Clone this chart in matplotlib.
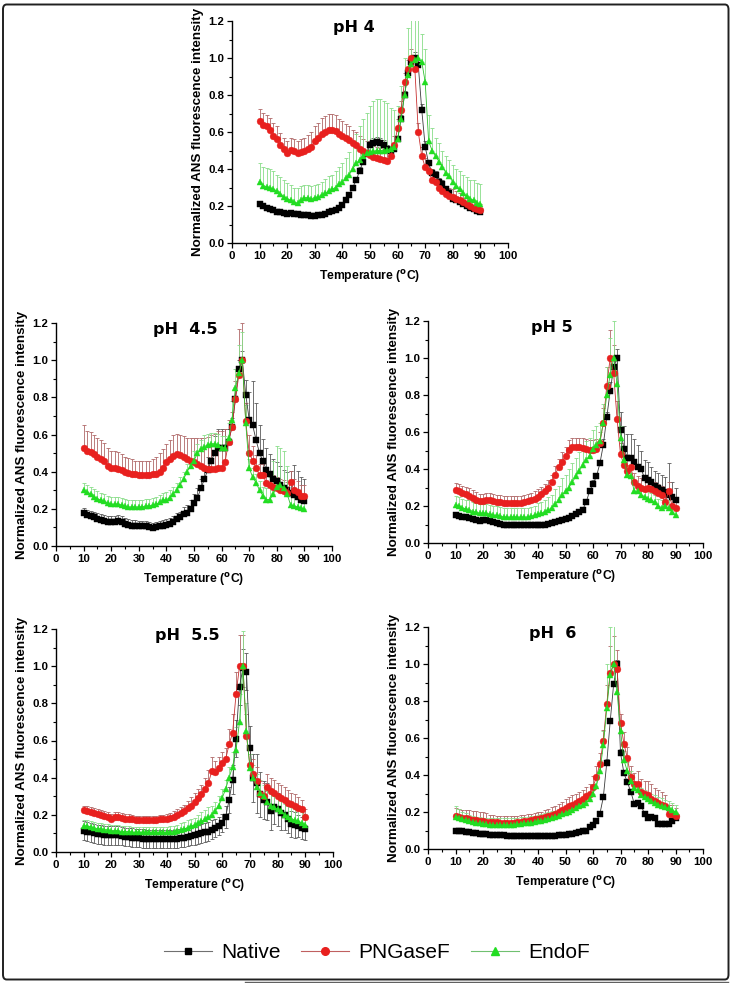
import numpy as np
import matplotlib
matplotlib.use('Agg')
import matplotlib.pyplot as plt
from matplotlib.patches import FancyBboxPatch
from matplotlib.lines import Line2D
from matplotlib.ticker import MultipleLocator, FormatStrFormatter

# Temperature grid (deg C), one reading every 1.25 deg from 10 to 90
temps = np.arange(10, 90.01, 1.25)

series_names = ["Native", "PNGaseF", "EndoF"]
panel_titles = ["pH 4", "pH  4.5", "pH 5", "pH  5.5", "pH  6"]

# ---------------- pH 4 ----------------
n4 = [0.21,0.20,0.19,0.185, 0.18,0.17,0.165,0.16, 0.155,0.16,0.158,0.155, 0.153,0.15,0.15,0.148,
      0.148,0.15,0.152,0.157, 0.165,0.172,0.18,0.19, 0.205,0.23,0.26,0.30, 0.34,0.39,0.44,0.48,
      0.53,0.54,0.545,0.54, 0.53,0.51,0.50,0.51, 0.56,0.67,0.80,0.92, 0.98,1.00,0.96,0.72,
      0.52,0.43,0.38,0.37, 0.33,0.32,0.29,0.27, 0.24,0.23,0.22,0.21, 0.20,0.19,0.185,0.175, 0.165]
p4 = [0.66,0.64,0.63,0.61, 0.58,0.56,0.53,0.51, 0.485,0.505,0.50,0.485, 0.49,0.50,0.51,0.52,
      0.55,0.57,0.59,0.60, 0.61,0.61,0.605,0.59, 0.58,0.57,0.555,0.54, 0.53,0.51,0.495,0.485,
      0.475,0.465,0.46,0.455, 0.45,0.445,0.47,0.53, 0.62,0.72,0.87,0.94, 1.00,0.94,0.60,0.47,
      0.41,0.39,0.34,0.33, 0.30,0.28,0.265,0.255, 0.25,0.24,0.23,0.22, 0.21,0.20,0.19,0.185, 0.18]
e4 = [0.33,0.31,0.305,0.30, 0.29,0.28,0.265,0.25, 0.24,0.23,0.22,0.215, 0.235,0.245,0.245,0.24,
      0.245,0.25,0.26,0.27, 0.28,0.29,0.30,0.32, 0.33,0.35,0.37,0.40, 0.43,0.45,0.47,0.485,
      0.49,0.495,0.50,0.50, 0.50,0.505,0.51,0.52, 0.56,0.67,0.80,0.91, 0.97,0.99,1.00,0.98,
      0.87,0.55,0.50,0.47, 0.44,0.41,0.38,0.36, 0.33,0.31,0.29,0.27, 0.255,0.24,0.23,0.215, 0.21]
n4_err = [0.01,0.01,0.01,0.01, 0.01,0.01,0.01,0.01, 0.01,0.01,0.01,0.01, 0.01,0.01,0.01,0.01,
          0.01,0.01,0.01,0.01, 0.01,0.01,0.01,0.01, 0.01,0.01,0.01,0.015, 0.015,0.02,0.02,0.02,
          0.02,0.025,0.03,0.03, 0.025,0.02,0.02,0.02, 0.02,0.02,0.02,0.03, 0.03,0.03,0.03,0.03,
          0.03,0.02,0.02,0.02, 0.02,0.02,0.02,0.02, 0.02,0.02,0.02,0.02, 0.02,0.02,0.02,0.02, 0.02]
p4_err = [0.065,0.065,0.06,0.065, 0.07,0.07,0.065,0.06, 0.065,0.06,0.06,0.065, 0.07,0.07,0.075,0.08,
          0.08,0.08,0.085,0.085, 0.085,0.085,0.085,0.08, 0.08,0.075,0.075,0.07, 0.07,0.07,0.065,0.065,
          0.065,0.06,0.06,0.06, 0.06,0.055,0.05,0.05, 0.05,0.05,0.05,0.05, 0.05,0.05,0.05,0.05,
          0.05,0.05,0.045,0.045, 0.045,0.04,0.04,0.04, 0.04,0.04,0.04,0.04, 0.04,0.035,0.035,0.03, 0.03]
e4_err = [0.10,0.10,0.10,0.10, 0.10,0.09,0.09,0.09, 0.085,0.085,0.08,0.08, 0.075,0.07,0.07,0.07,
          0.07,0.07,0.07,0.075, 0.08,0.08,0.09,0.09, 0.10,0.11,0.12,0.14, 0.16,0.18,0.20,0.22,
          0.25,0.27,0.28,0.28, 0.27,0.25,0.22,0.20, 0.18,0.18,0.20,0.25, 0.30,0.30,0.25,0.15,
          0.18,0.14,0.12,0.10, 0.10,0.09,0.09,0.09, 0.09,0.09,0.10,0.10, 0.10,0.10,0.11,0.11, 0.11]

# ---------------- pH 4.5 ----------------
n45 = [0.175,0.165,0.16,0.155, 0.145,0.14,0.135,0.13, 0.13,0.13,0.135,0.13, 0.12,0.115,0.11,0.11,
       0.105,0.105,0.105,0.10, 0.095,0.10,0.105,0.11, 0.115,0.12,0.13,0.145, 0.155,0.17,0.18,0.20,
       0.23,0.26,0.31,0.36, 0.41,0.46,0.50,0.53, 0.53,0.53,0.56,0.64, 0.79,0.95,1.00,0.815,
       0.68,0.65,0.57,0.50, 0.455,0.41,0.385,0.36, 0.35,0.33,0.31,0.30, 0.285,0.275,0.265,0.25, 0.24]
p45 = [0.53,0.51,0.505,0.495, 0.48,0.47,0.455,0.43, 0.42,0.42,0.415,0.41, 0.40,0.395,0.39,0.385,
       0.38,0.38,0.38,0.38, 0.385,0.39,0.40,0.42, 0.45,0.47,0.485,0.495, 0.49,0.48,0.47,0.46,
       0.45,0.44,0.43,0.42, 0.415,0.415,0.415,0.42, 0.42,0.45,0.56,0.64, 0.79,0.92,1.00,0.67,
       0.50,0.46,0.42,0.38, 0.38,0.34,0.33,0.32, 0.31,0.30,0.295,0.285, 0.345,0.30,0.29,0.27, 0.27]
e45 = [0.30,0.29,0.28,0.265, 0.255,0.245,0.24,0.23, 0.225,0.225,0.225,0.22, 0.215,0.21,0.21,0.21,
       0.21,0.21,0.215,0.215, 0.22,0.225,0.235,0.245, 0.25,0.26,0.28,0.30, 0.33,0.36,0.40,0.43,
       0.46,0.50,0.52,0.535, 0.545,0.55,0.55,0.545, 0.53,0.53,0.58,0.68, 0.85,0.93,1.00,0.66,
       0.42,0.37,0.34,0.30, 0.27,0.25,0.25,0.28, 0.32,0.33,0.31,0.28, 0.22,0.215,0.21,0.205, 0.20]
n45_err = [0.03,0.03,0.03,0.03, 0.03,0.03,0.03,0.03, 0.03,0.03,0.03,0.03, 0.03,0.03,0.03,0.03,
           0.03,0.03,0.03,0.03, 0.03,0.03,0.03,0.03, 0.03,0.03,0.03,0.03, 0.03,0.04,0.04,0.05,
           0.05,0.05,0.05,0.06, 0.07,0.08,0.09,0.10, 0.10,0.10,0.07,0.05, 0.05,0.05,0.05,0.08,
           0.15,0.24,0.20,0.15, 0.12,0.12,0.11,0.11, 0.10,0.10,0.10,0.10, 0.12,0.16,0.14,0.12, 0.12]
p45_err = [0.12,0.11,0.11,0.10, 0.10,0.10,0.10,0.095, 0.09,0.09,0.09,0.085, 0.08,0.08,0.08,0.075,
           0.075,0.075,0.075,0.08, 0.085,0.09,0.10,0.10, 0.10,0.10,0.11,0.11, 0.11,0.11,0.11,0.12,
           0.13,0.14,0.15,0.16, 0.17,0.18,0.19,0.20, 0.20,0.18,0.12,0.08, 0.10,0.25,0.20,0.10,
           0.10,0.08,0.07,0.06, 0.06,0.06,0.06,0.06, 0.06,0.06,0.06,0.06, 0.06,0.06,0.06,0.06, 0.06]
e45_err = [0.04,0.04,0.04,0.04, 0.04,0.04,0.04,0.04, 0.04,0.04,0.04,0.04, 0.04,0.04,0.04,0.04,
           0.04,0.04,0.04,0.04, 0.04,0.04,0.04,0.04, 0.04,0.04,0.04,0.04, 0.04,0.04,0.04,0.04,
           0.05,0.05,0.05,0.06, 0.06,0.06,0.06,0.06, 0.06,0.06,0.08,0.10, 0.10,0.15,0.15,0.10,
           0.05,0.05,0.05,0.05, 0.05,0.06,0.12,0.18, 0.22,0.20,0.20,0.15, 0.05,0.05,0.05,0.05, 0.05]

# ---------------- pH 5 ----------------
n5 = [0.15,0.145,0.14,0.14, 0.135,0.13,0.125,0.12, 0.125,0.125,0.12,0.115, 0.11,0.105,0.10,0.10,
      0.10,0.10,0.095,0.095, 0.095,0.095,0.095,0.095, 0.095,0.10,0.10,0.105, 0.11,0.115,0.12,0.125,
      0.13,0.135,0.145,0.155, 0.17,0.18,0.22,0.28, 0.32,0.36,0.43,0.53, 0.68,0.82,0.95,1.00,
      0.61,0.51,0.46,0.46, 0.44,0.41,0.40,0.35, 0.34,0.33,0.31,0.30, 0.285,0.275,0.26,0.25, 0.23]
p5 = [0.285,0.28,0.27,0.265, 0.255,0.245,0.235,0.225, 0.225,0.23,0.23,0.225, 0.22,0.22,0.215,0.215,
      0.215,0.215,0.215,0.215, 0.22,0.225,0.23,0.24, 0.25,0.265,0.28,0.30, 0.33,0.37,0.41,0.44,
      0.47,0.505,0.52,0.52, 0.52,0.515,0.51,0.505, 0.505,0.51,0.54,0.65, 0.85,1.00,0.92,0.67,
      0.48,0.42,0.39,0.41, 0.33,0.31,0.30,0.29, 0.30,0.29,0.28,0.27, 0.26,0.22,0.28,0.20, 0.19]
e5 = [0.205,0.20,0.19,0.185, 0.18,0.17,0.165,0.16, 0.16,0.16,0.155,0.15, 0.15,0.145,0.14,0.14,
      0.14,0.14,0.14,0.14, 0.14,0.14,0.145,0.15, 0.155,0.16,0.17,0.18, 0.19,0.21,0.23,0.26,
      0.28,0.30,0.33,0.36, 0.39,0.42,0.45,0.47, 0.51,0.53,0.55,0.65, 0.80,0.91,1.00,0.86,
      0.57,0.45,0.37,0.36, 0.28,0.28,0.26,0.25, 0.24,0.23,0.22,0.20, 0.19,0.20,0.19,0.17, 0.15]
n5_err = [0.01,0.01,0.01,0.01, 0.01,0.01,0.01,0.01, 0.01,0.01,0.01,0.01, 0.01,0.01,0.01,0.01,
          0.01,0.01,0.01,0.01, 0.01,0.01,0.01,0.01, 0.01,0.01,0.01,0.01, 0.01,0.01,0.01,0.01,
          0.01,0.01,0.01,0.01, 0.01,0.01,0.015,0.015, 0.02,0.02,0.02,0.03, 0.03,0.05,0.05,0.05,
          0.10,0.12,0.13,0.13, 0.12,0.12,0.10,0.10, 0.10,0.08,0.08,0.08, 0.08,0.08,0.17,0.08, 0.07]
p5_err = [0.04,0.04,0.04,0.04, 0.04,0.04,0.04,0.04, 0.04,0.04,0.04,0.04, 0.04,0.04,0.04,0.04,
          0.04,0.04,0.04,0.04, 0.04,0.04,0.04,0.04, 0.04,0.04,0.04,0.04, 0.04,0.045,0.045,0.05,
          0.05,0.05,0.05,0.05, 0.05,0.05,0.05,0.05, 0.05,0.05,0.06,0.08, 0.10,0.15,0.15,0.10,
          0.06,0.06,0.06,0.06, 0.05,0.05,0.05,0.05, 0.05,0.05,0.05,0.05, 0.05,0.05,0.05,0.05, 0.05]
e5_err = [0.05,0.05,0.05,0.05, 0.05,0.05,0.05,0.05, 0.05,0.05,0.05,0.05, 0.05,0.05,0.05,0.05,
          0.05,0.05,0.05,0.05, 0.05,0.05,0.05,0.05, 0.06,0.06,0.06,0.07, 0.07,0.08,0.08,0.09,
          0.09,0.10,0.10,0.10, 0.10,0.10,0.10,0.10, 0.10,0.10,0.10,0.10, 0.15,0.20,0.20,0.15,
          0.06,0.05,0.05,0.05, 0.04,0.04,0.04,0.04, 0.04,0.04,0.04,0.04, 0.04,0.04,0.04,0.04, 0.04]

# ---------------- pH 5.5 ----------------
n55 = [0.115,0.11,0.105,0.10, 0.095,0.095,0.09,0.09, 0.09,0.09,0.09,0.085, 0.08,0.08,0.078,0.075,
       0.075,0.072,0.07,0.07, 0.07,0.07,0.07,0.07, 0.07,0.07,0.07,0.072, 0.075,0.078,0.08,0.085,
       0.09,0.095,0.10,0.105, 0.11,0.12,0.13,0.14, 0.155,0.19,0.28,0.39, 0.61,0.89,0.99,0.97,
       0.56,0.40,0.37,0.31, 0.28,0.27,0.22,0.24, 0.23,0.21,0.20,0.18, 0.15,0.145,0.14,0.13, 0.125]
p55 = [0.225,0.22,0.215,0.21, 0.205,0.20,0.195,0.19, 0.18,0.19,0.19,0.185, 0.18,0.18,0.175,0.17,
       0.17,0.17,0.17,0.17, 0.17,0.17,0.175,0.175, 0.18,0.185,0.19,0.20, 0.21,0.22,0.235,0.25,
       0.27,0.29,0.31,0.34, 0.37,0.435,0.43,0.45, 0.48,0.50,0.58,0.64, 0.85,1.00,1.00,0.625,
       0.47,0.42,0.38,0.31, 0.30,0.35,0.33,0.32, 0.30,0.29,0.28,0.265, 0.26,0.25,0.235,0.23, 0.19]
e55 = [0.14,0.14,0.135,0.13, 0.125,0.125,0.12,0.12, 0.115,0.115,0.115,0.11, 0.11,0.11,0.105,0.105,
       0.105,0.105,0.105,0.105, 0.105,0.105,0.105,0.105, 0.105,0.11,0.11,0.115, 0.12,0.125,0.13,0.14,
       0.145,0.155,0.165,0.175, 0.19,0.20,0.22,0.25, 0.29,0.34,0.40,0.46, 0.55,0.70,1.00,0.65,
       0.45,0.40,0.35,0.32, 0.30,0.27,0.25,0.24, 0.23,0.22,0.20,0.19, 0.18,0.17,0.165,0.155, 0.145]
n55_err = [0.05,0.05,0.05,0.05, 0.05,0.05,0.05,0.05, 0.05,0.05,0.05,0.05, 0.05,0.05,0.05,0.05,
           0.05,0.05,0.05,0.05, 0.05,0.05,0.05,0.05, 0.05,0.05,0.05,0.05, 0.05,0.05,0.05,0.05,
           0.05,0.05,0.05,0.05, 0.05,0.05,0.05,0.05, 0.05,0.06,0.07,0.08, 0.10,0.10,0.10,0.10,
           0.12,0.13,0.16,0.12, 0.10,0.10,0.10,0.09, 0.09,0.09,0.08,0.08, 0.07,0.07,0.06,0.06, 0.06]
p55_err = [0.025,0.025,0.025,0.025, 0.025,0.025,0.025,0.025, 0.025,0.025,0.025,0.025, 0.025,0.025,0.025,0.025,
           0.025,0.025,0.025,0.025, 0.025,0.025,0.025,0.025, 0.025,0.025,0.03,0.03, 0.03,0.035,0.04,0.045,
           0.05,0.05,0.05,0.06, 0.07,0.075,0.06,0.06, 0.06,0.06,0.08,0.10, 0.12,0.17,0.17,0.12,
           0.08,0.08,0.08,0.07, 0.07,0.07,0.07,0.07, 0.07,0.07,0.07,0.07, 0.06,0.06,0.06,0.05, 0.04]
e55_err = [0.03,0.03,0.03,0.03, 0.03,0.03,0.03,0.03, 0.03,0.03,0.03,0.03, 0.03,0.03,0.03,0.03,
           0.03,0.03,0.03,0.03, 0.03,0.03,0.03,0.03, 0.03,0.03,0.03,0.03, 0.035,0.035,0.04,0.04,
           0.04,0.045,0.05,0.05, 0.05,0.05,0.05,0.05, 0.05,0.05,0.06,0.08, 0.12,0.15,0.19,0.15,
           0.08,0.07,0.07,0.07, 0.06,0.06,0.06,0.06, 0.06,0.06,0.06,0.06, 0.06,0.06,0.06,0.06, 0.06]

# ---------------- pH 6 ----------------
n6 = [0.10,0.10,0.095,0.093, 0.09,0.088,0.085,0.083, 0.08,0.08,0.078,0.077, 0.075,0.074,0.073,0.072,
      0.07,0.07,0.069,0.068, 0.068,0.068,0.068,0.068, 0.068,0.068,0.069,0.07, 0.07,0.072,0.074,0.076,
      0.078,0.08,0.083,0.086, 0.09,0.095,0.10,0.12, 0.13,0.15,0.19,0.28, 0.465,0.69,0.89,1.00,
      0.52,0.41,0.36,0.31, 0.245,0.25,0.235,0.19, 0.165,0.175,0.17,0.135, 0.135,0.135,0.135,0.15, 0.165]
p6 = [0.18,0.175,0.17,0.165, 0.16,0.155,0.155,0.15, 0.15,0.148,0.146,0.145, 0.145,0.143,0.142,0.142,
      0.142,0.143,0.145,0.148, 0.15,0.153,0.156,0.16, 0.163,0.167,0.172,0.178, 0.185,0.19,0.20,0.21,
      0.22,0.23,0.24,0.25, 0.26,0.27,0.285,0.30, 0.335,0.39,0.46,0.585, 0.785,0.95,1.00,0.975,
      0.68,0.57,0.49,0.39, 0.35,0.35,0.31,0.30, 0.29,0.27,0.26,0.25, 0.24,0.23,0.19,0.19, 0.18]
e6 = [0.175,0.165,0.16,0.155, 0.15,0.145,0.14,0.138, 0.135,0.133,0.132,0.13, 0.13,0.13,0.13,0.13,
      0.13,0.132,0.134,0.136, 0.138,0.14,0.143,0.146, 0.15,0.154,0.158,0.163, 0.168,0.173,0.18,0.187,
      0.195,0.20,0.21,0.22, 0.23,0.24,0.25,0.27, 0.30,0.34,0.42,0.56, 0.76,0.94,1.00,0.85,
      0.64,0.48,0.42,0.37, 0.33,0.32,0.29,0.28, 0.27,0.26,0.25,0.24, 0.235,0.225,0.22,0.21, 0.20]
n6_err = [0.01,0.01,0.01,0.01, 0.01,0.01,0.01,0.01, 0.01,0.01,0.01,0.01, 0.01,0.01,0.01,0.01,
          0.01,0.01,0.01,0.01, 0.01,0.01,0.01,0.01, 0.01,0.01,0.01,0.01, 0.01,0.01,0.01,0.01,
          0.01,0.01,0.01,0.01, 0.01,0.01,0.01,0.01, 0.01,0.01,0.01,0.01, 0.02,0.02,0.02,0.02,
          0.02,0.01,0.01,0.01, 0.01,0.01,0.01,0.01, 0.01,0.01,0.01,0.01, 0.01,0.01,0.01,0.01, 0.01]
p6_err = [0.04,0.04,0.04,0.045, 0.05,0.05,0.05,0.05, 0.05,0.045,0.04,0.04, 0.035,0.035,0.035,0.035,
          0.035,0.035,0.035,0.035, 0.035,0.035,0.035,0.035, 0.035,0.035,0.04,0.04, 0.04,0.04,0.045,0.045,
          0.05,0.05,0.05,0.05, 0.05,0.05,0.05,0.05, 0.06,0.06,0.06,0.06, 0.10,0.15,0.15,0.10,
          0.05,0.06,0.06,0.06, 0.06,0.07,0.07,0.07, 0.08,0.08,0.07,0.07, 0.07,0.06,0.05,0.05, 0.04]
e6_err = [0.06,0.05,0.04,0.04, 0.035,0.035,0.035,0.035, 0.035,0.035,0.035,0.035, 0.035,0.035,0.035,0.035,
          0.035,0.035,0.035,0.035, 0.035,0.035,0.035,0.035, 0.035,0.035,0.035,0.035, 0.035,0.035,0.035,0.035,
          0.04,0.04,0.04,0.04, 0.04,0.04,0.04,0.04, 0.05,0.05,0.06,0.08, 0.24,0.26,0.22,0.15,
          0.05,0.05,0.05,0.05, 0.04,0.04,0.04,0.04, 0.04,0.04,0.04,0.04, 0.04,0.04,0.04,0.04, 0.04]

# ---------------- layout / style ----------------
W, H = 731, 983
fig = plt.figure(figsize=(W / 100, H / 100), dpi=100)

def rect(x0, x1, top, bottom):
    return [x0 / W, 1 - bottom / H, (x1 - x0) / W, (bottom - top) / H]

axes_px = [(232, 508, 21, 243), (56, 332, 323, 546), (428, 703, 321, 543),
           (56, 333, 629, 852), (428, 703, 627, 849)]
title_x = [44, 47, 45, 47.5, 45.5]

panels = [
    (n4, p4, e4, n4_err, p4_err, e4_err, False),
    (n45, p45, e45, n45_err, p45_err, e45_err, False),
    (n5, p5, e5, n5_err, p5_err, e5_err, False),
    (n55, p55, e55, n55_err, p55_err, e55_err, True),
    (n6, p6, e6, n6_err, p6_err, e6_err, False),
]

styles = [
    dict(marker='s', ms=3.9, mfc='black', mec='black', color='#3a3a3a', ecolor='#5a5a5a'),
    dict(marker='o', ms=4.9, mfc='#e8201e', mec='#e8201e', color='#c83030', ecolor='#b06868'),
    dict(marker='^', ms=5.0, mfc='#22dd22', mec='#22dd22', color='#30c030', ecolor='#88dd88'),
]

for k, (pos, panel) in enumerate(zip(axes_px, panels)):
    ax = fig.add_axes(rect(*pos))
    vals = panel[:3]
    errs = panel[3:6]
    sym_native = panel[6]
    for j, (v, e, st) in enumerate(zip(vals, errs, styles)):
        v = np.asarray(v)
        e = np.asarray(e)
        lower = e if (j == 0 and sym_native) else np.zeros_like(e)
        ax.errorbar(temps, v, yerr=[lower, e], fmt='none', ecolor=st['ecolor'],
                    elinewidth=0.6, capsize=1.6, capthick=0.6, zorder=2 + j)
    for j, (v, st) in enumerate(zip(vals, styles)):
        ax.plot(temps, v, color=st['color'], lw=0.6, marker=st['marker'], ms=st['ms'],
                mfc=st['mfc'], mec=st['mec'], mew=0.3, zorder=5 + j, clip_on=True)
    ax.set_xlim(0, 100)
    ax.set_ylim(0, 1.2)
    for s in ['top', 'right']:
        ax.spines[s].set_visible(False)
    for s in ['left', 'bottom']:
        ax.spines[s].set_linewidth(1.0)
    ax.xaxis.set_major_locator(MultipleLocator(10))
    ax.xaxis.set_minor_locator(MultipleLocator(5))
    ax.yaxis.set_major_locator(MultipleLocator(0.2))
    ax.yaxis.set_minor_locator(MultipleLocator(0.1))
    ax.yaxis.set_major_formatter(FormatStrFormatter('%.1f'))
    ax.tick_params(which='major', direction='out', length=3.5, width=0.9, pad=2)
    ax.tick_params(which='minor', direction='out', length=2, width=0.8)
    for lab in ax.get_xticklabels() + ax.get_yticklabels():
        lab.set_fontfamily('Liberation Sans')
        lab.set_fontweight('bold')
        lab.set_fontsize(8.2)
    ax.set_ylabel('Normalized ANS fluorescence intensity', family='Liberation Sans',
                  weight='bold', size=9.6, labelpad=3)
    ax.set_xlabel('Temperature ($\\mathbf{^{o}}$C)', family='Liberation Sans',
                  weight='bold', size=8.7, labelpad=5)
    ax.text(title_x[k], 1.165, panel_titles[k], ha='center', va='center',
            family='DejaVu Sans', weight='bold', size=11.5)
    ax.patch.set_alpha(0)

# legend
handles = [Line2D([], [], color=c, lw=0.8, marker=st['marker'], ms=m,
                  mfc=st['mfc'], mec=st['mec'])
           for st, c, m in zip(styles, ['#707070', '#c06060', '#70c070'], [4.5, 5.5, 5.5])]
fig.legend(handles, series_names, loc='center', bbox_to_anchor=(377 / W, 1 - 953 / H),
           ncol=3, frameon=False, prop=dict(family='Liberation Sans', size=15),
           handlelength=2.3, handletextpad=0.45, columnspacing=1.0)

# rounded frame around the figure
frame = FancyBboxPatch((3 / W, 3.5 / H), 725.5 / W, 975 / H,
                       boxstyle='round,pad=0,rounding_size=0.005',
                       transform=fig.transFigure, fill=False, ec='#202020', lw=1.4)
fig.patches.append(frame)
fig.add_artist(Line2D([245 / W, 728 / W], [1 - 982 / H, 1 - 982 / H],
                      transform=fig.transFigure, color='#606060', lw=1.0))

fig.savefig('out.png', dpi=100)
